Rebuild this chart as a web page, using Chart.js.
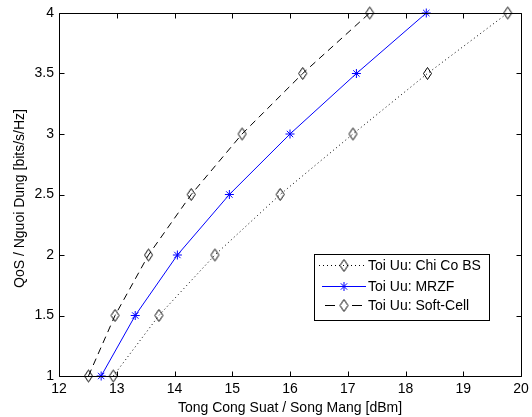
<!DOCTYPE html>
<html><head><meta charset="utf-8">
<script src="https://cdn.jsdelivr.net/npm/chart.js@4.4.1/dist/chart.umd.min.js"></script>
<style>html,body{margin:0;padding:0;background:#fff}#c{display:block}</style>
</head><body>
<canvas id="c" width="532" height="417"></canvas>
<script>
const qos = [1, 1.5, 2, 2.5, 3, 3.5, 4];
const powerChiCoBS = [12.94, 13.73, 14.70, 15.83, 17.09, 18.38, 19.77];
const powerMRZF = [12.73, 13.32, 14.05, 14.95, 16.00, 17.15, 18.36];
const powerSoftCell = [12.51, 12.97, 13.55, 14.29, 15.17, 16.22, 17.38];
const seriesNames = ['Toi Uu: Chi Co BS', 'Toi Uu: MRZF', 'Toi Uu: Soft-Cell'];
const xTickValues = [12, 13, 14, 15, 16, 17, 18, 19, 20];
const yTickValues = [1, 1.5, 2, 2.5, 3, 3.5, 4];
const xTitle = 'Tong Cong Suat / Song Mang [dBm]';
const yTitle = 'QoS / Nguoi Dung [bits/s/Hz]';

const FONT = '"Liberation Sans", Arial, sans-serif';
const FS = 14;

function diamond(color) {
  const c = document.createElement('canvas');
  c.width = 11; c.height = 15;
  const g = c.getContext('2d');
  g.strokeStyle = color; g.lineWidth = 1;
  g.beginPath();
  g.moveTo(5.5, 1.5); g.lineTo(9.5, 7.5); g.lineTo(5.5, 13.5); g.lineTo(1.5, 7.5); g.closePath();
  g.stroke();
  return c;
}
const dia = diamond('#000');

function pts(xs) { return xs.map((v, i) => ({ x: v, y: qos[i] })); }

const styles = [
  { color: '#000', dash: [1, 3], point: dia, radius: 5, legendFrom: 319, legendDash: [1, 3] },
  { color: '#0000ff', dash: [], point: 'star', radius: 4.5, legendFrom: 322, legendDash: [] },
  { color: '#000', dash: [7, 5], point: dia, radius: 5, legendFrom: 325, legendDash: [10, 17] }
];
const seriesData = [powerChiCoBS, powerMRZF, powerSoftCell];

const datasets = seriesData.map((d, i) => ({
  label: seriesNames[i],
  data: pts(d),
  borderColor: styles[i].color,
  backgroundColor: 'transparent',
  borderWidth: 1,
  borderDash: styles[i].dash,
  pointStyle: styles[i].point,
  pointRadius: styles[i].radius,
  pointBorderColor: styles[i].color,
  pointBackgroundColor: 'transparent',
  pointBorderWidth: 1,
  tension: 0,
  clip: false
}));

const matlabAxes = {
  id: 'matlabAxes',
  afterDraw(chart) {
    const { ctx, chartArea: a, scales: { x, y } } = chart;
    ctx.save();
    ctx.strokeStyle = '#000';
    ctx.lineWidth = 1;
    ctx.setLineDash([]);
    const L = Math.round(a.left) + 0.5, R = Math.round(a.right) + 0.5;
    const T = Math.round(a.top) + 0.5, B = Math.round(a.bottom) + 0.5;
    ctx.beginPath();
    ctx.rect(L, T, R - L, B - T);
    x.ticks.forEach(t => {
      const px = Math.round(x.getPixelForValue(t.value)) + 0.5;
      ctx.moveTo(px, B); ctx.lineTo(px, B - 5);
      ctx.moveTo(px, T); ctx.lineTo(px, T + 5);
    });
    y.ticks.forEach(t => {
      const py = Math.round(y.getPixelForValue(t.value)) + 0.5;
      ctx.moveTo(L, py); ctx.lineTo(L + 5, py);
      ctx.moveTo(R, py); ctx.lineTo(R - 5, py);
    });
    ctx.stroke();

    // tick labels and titles
    ctx.fillStyle = '#000';
    ctx.font = FS + 'px ' + FONT;
    ctx.textBaseline = 'middle';
    ctx.textAlign = 'center';
    x.ticks.forEach(t => {
      ctx.fillText(String(t.value), x.getPixelForValue(t.value), a.bottom + 13);
    });
    ctx.textAlign = 'right';
    y.ticks.forEach(t => {
      ctx.fillText(String(t.value), a.left - 5, y.getPixelForValue(t.value));
    });
    ctx.textAlign = 'center';
    ctx.fillText(xTitle, (a.left + a.right) / 2, a.bottom + 32);
    ctx.save();
    ctx.translate(20.5, (a.top + a.bottom) / 2 + 4);
    ctx.rotate(-Math.PI / 2);
    ctx.fillText(yTitle, 0, 0);
    ctx.restore();

    // legend
    const bx = 314.5, by = 254.5, bw = 175, bh = 66;
    ctx.fillStyle = '#fff';
    ctx.fillRect(bx, by, bw, bh);
    ctx.strokeStyle = '#000';
    ctx.strokeRect(bx, by, bw, bh);
    const rows = [265, 286, 305];
    ctx.textAlign = 'left';
    chart.data.datasets.forEach((ds, i) => {
      const ry = rows[i] + 0.5;
      ctx.strokeStyle = ds.borderColor;
      ctx.setLineDash(styles[i].legendDash);
      ctx.beginPath();
      ctx.moveTo(styles[i].legendFrom, ry); ctx.lineTo(366, ry);
      ctx.stroke();
      ctx.setLineDash([]);
      Chart.helpers.drawPoint(ctx, {
        pointStyle: ds.pointStyle, radius: ds.pointRadius, rotation: 0, borderWidth: 1
      }, 344, ry);
      ctx.fillStyle = '#000';
      ctx.fillText(ds.label, 368, rows[i] + 1);
    });
    ctx.restore();
  }
};

new Chart(document.getElementById('c'), {
  type: 'line',
  data: { datasets },
  options: {
    responsive: false,
    animation: false,
    devicePixelRatio: 1,
    layout: { padding: { top: 13, right: 11, left: 0, bottom: 0 } },
    plugins: { legend: { display: false }, tooltip: { enabled: false } },
    scales: {
      x: {
        type: 'linear', min: 12, max: 20,
        afterBuildTicks: s => { s.ticks = xTickValues.map(v => ({ value: v })); },
        afterFit: s => { s.height = 41; s.paddingLeft = 0; s.paddingRight = 0; },
        grid: { display: false }, border: { display: false },
        ticks: { display: false }
      },
      y: {
        type: 'linear', min: 1, max: 4,
        afterBuildTicks: s => { s.ticks = yTickValues.map(v => ({ value: v })); },
        afterFit: s => { s.width = 59; s.paddingTop = 0; s.paddingBottom = 0; },
        grid: { display: false }, border: { display: false },
        ticks: { display: false }
      }
    }
  },
  plugins: [matlabAxes]
});
</script>
</body></html>
